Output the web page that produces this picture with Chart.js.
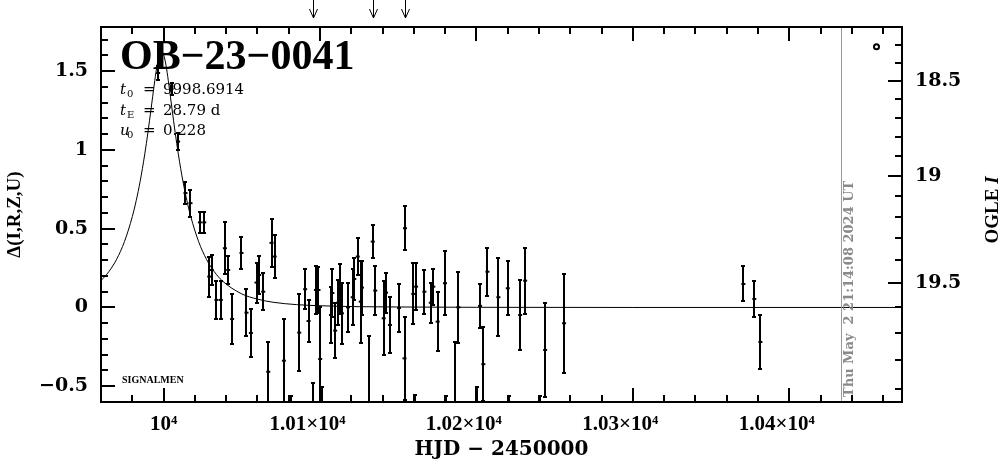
<!DOCTYPE html>
<html>
<head>
<meta charset="utf-8">
<script src="https://cdn.jsdelivr.net/npm/chart.js@4.4.1/dist/chart.umd.min.js"></script>
<style>
  html, body { margin: 0; padding: 0; background: #fff; }
</style>
</head>
<body>
<canvas id="c" width="1004" height="459"></canvas>
<script>
// ── axis ranges / ticks ─────────────────────────────────────────────
const X_MIN = 9960, X_MAX = 10472;
const Y_MIN = -0.6, Y_MAX = 1.78;

const xTickValues = [10000, 10100, 10200, 10300, 10400];
// trailing spaces keep the long labels sitting left of their tick, as in the plot
const xTickLabels = ["10⁴", "1.01×10⁴\u2003\u2009", "1.02×10⁴\u2003\u2009", "1.03×10⁴\u2003\u2009", "1.04×10⁴\u2003\u2009"];
const yTickValues = [-0.5, 0, 0.5, 1, 1.5];
const yTickLabels = ["−0.5", "0", "0.5", "1", "1.5"];
const magTickValues = [18.5, 19, 19.5];
const magTickLabels = ["18.5", "19", "19.5"];

// OGLE I magnitude <-> Δ (baseline mag, blend fraction)
const OGLE_BASE = 19.6, BLEND = 0.635;

// ── observations: HJD-2450000, Δ mag, error ────────────────────────
const obsT = [9996.5, 10005.1, 10009.3, 10014.0, 10017.2, 10023.2, 10026.0, 10029.2, 10030.8, 10033.8,
  10036.6, 10039.2, 10041.3, 10043.8, 10049.8, 10053.0, 10055.8, 10059.4, 10061.1, 10063.7,
  10066.9, 10069.0, 10071.0, 10076.9, 10081.2, 10086.7, 10090.5, 10092.7, 10095.3, 10097.4,
  10099.0, 10100.1, 10101.0, 10107.0, 10107.9, 10109.7, 10111.5, 10112.7, 10114.0, 10117.9,
  10120.9, 10121.9, 10124.1, 10126.0, 10126.8, 10131.5, 10133.7, 10135.3, 10140.7, 10142.2,
  10144.7, 10150.5, 10154.3, 10154.0, 10159.6, 10161.4, 10160.7, 10166.7, 10170.8, 10172.4,
  10175.2, 10179.9, 10180.4, 10186.3, 10188.4, 10200.2, 10202.3, 10204.4, 10207.0, 10214.0,
  10220.0, 10220.9, 10227.9, 10231.1, 10240.7, 10243.9, 10256.0, 10370.6, 10377.6, 10381.5];
const obsD = [1.488, 1.387, 1.053, 0.726, 0.662, 0.540, 0.540, 0.196, 0.238, 0.048,
  0.048, 0.376, 0.238, -0.073, 0.346, -0.033, -0.162, 0.158, 0.206, 0.100,
  -0.408, 0.410, 0.323, -0.338, -0.800, -0.160, 0.116, -0.086, -0.780, 0.111,
  0.111, -0.327, -0.800, -0.048, 0.092, -0.147, 0.030, 0.116, -0.037, 0.001,
  0.065, 0.181, 0.323, 0.037, 0.126, -0.620, 0.418, 0.107, -0.069, 0.094,
  -0.111, -0.003, 0.503, -0.323, 0.086, 0.132, -0.800, 0.100, 0.030, 0.132,
  -0.090, 0.154, -0.820, -0.660, 0.001, -0.800, 0.010, -0.360, 0.227, 0.065,
  0.122, -0.820, -0.048, 0.170, -0.820, -0.270, -0.100, 0.149, 0.054, -0.219];
const obsE = [0.043, 0.037, 0.053, 0.068, 0.085, 0.069, 0.069, 0.127, 0.095, 0.120,
  0.120, 0.164, 0.086, 0.156, 0.100, 0.150, 0.152, 0.127, 0.118, 0.118,
  0.190, 0.152, 0.138, 0.262, 0.240, 0.245, 0.127, 0.132, 0.300, 0.150,
  0.148, 0.330, 0.295, 0.180, 0.152, 0.175, 0.143, 0.159, 0.194, 0.156,
  0.178, 0.133, 0.118, 0.260, 0.172, 0.440, 0.106, 0.156, 0.235, 0.127,
  0.178, 0.151, 0.140, 0.265, 0.194, 0.148, 0.245, 0.139, 0.127, 0.114,
  0.189, 0.205, 0.260, 0.440, 0.224, 0.295, 0.140, 0.235, 0.152, 0.248,
  0.172, 0.260, 0.222, 0.210, 0.260, 0.297, 0.313, 0.111, 0.114, 0.172];

// ── model curve ─────────────────────────
const modelT = [9960, 9965, 9970, 9975, 9980, 9982.5, 9985, 9988, 9990, 9992, 9994, 9995.5, 9997, 9998.7,
  10000.4, 10001.9, 10003.4, 10005.4, 10007.4, 10009.4, 10012.4, 10014.9, 10017.4, 10022.4, 10027.4,
  10032.4, 10037.4, 10050, 10060, 10070, 10085, 10100, 10125, 10150, 10200, 10300, 10472];
const modelD = [0.170, 0.227, 0.306, 0.418, 0.576, 0.678, 0.799, 0.975, 1.111, 1.260, 1.412, 1.516, 1.592, 1.626,
  1.592, 1.516, 1.412, 1.260, 1.111, 0.975, 0.799, 0.678, 0.576, 0.418, 0.306,
  0.227, 0.170, 0.086, 0.053, 0.033, 0.018, 0.011, 0.005, 0.003, 0.001, 0.0, 0.0];

// ── annotations ────────────────────────────────────────────────────
const alertT = [10095.5, 10133.9, 10154.3];
const nowT = 10433.385;
const nowLabel = "Thu May  2 21:14:08 2024 UT";
const markerT = [10455.7];
const markerD = [1.655];
const eventName = "OB−23−0041";
const params = [
  { sym: "t", sub: "0", text: "9998.6914" },
  { sym: "t", sub: "E", text: "28.79 d" },
  { sym: "u", sub: "0", text: "0.228" },
];

function magToDelta(m) {
  const f = Math.pow(10, -0.4 * (m - OGLE_BASE));
  return 2.5 * Math.log10((f - 1) / BLEND + 1);
}

const SERIF = "'DejaVu Serif', serif";
const TIMES = "'Liberation Serif', serif";

const framePlugin = {
  id: "frame",
  afterDatasetsDraw(chart) {
    const { ctx, chartArea: a, scales: { x, y } } = chart;
    ctx.save();
    ctx.beginPath();
    ctx.rect(a.left, a.top, a.right - a.left, a.bottom - a.top);
    ctx.clip();
    ctx.strokeStyle = "#000";
    ctx.lineWidth = 2;
    obsT.forEach((t, i) => {
      const px = Math.round(x.getPixelForValue(t));
      const y1 = Math.round(y.getPixelForValue(obsD[i] + obsE[i]));
      const y2 = Math.round(y.getPixelForValue(obsD[i] - obsE[i]));
      ctx.beginPath();
      ctx.moveTo(px, y1); ctx.lineTo(px, y2);
      ctx.moveTo(px - 2, y1); ctx.lineTo(px + 2, y1);
      ctx.moveTo(px - 2, y2); ctx.lineTo(px + 2, y2);
      ctx.stroke();
    });
    // today line
    const nx = Math.round(x.getPixelForValue(nowT)) - 0.5;
    ctx.strokeStyle = "#999";
    ctx.lineWidth = 1;
    ctx.beginPath();
    ctx.moveTo(nx, a.top); ctx.lineTo(nx, a.bottom);
    ctx.stroke();
    ctx.restore();
  },
  afterDraw(chart) {
    const { ctx, chartArea: a, scales: { x, y } } = chart;
    ctx.save();
    ctx.strokeStyle = "#000";
    ctx.fillStyle = "#000";
    ctx.lineWidth = 2;
    ctx.strokeRect(a.left, a.top, a.right - a.left, a.bottom - a.top);

    const MAJ = 14, MIN = 7;
    ctx.beginPath();
    for (let t = 9960; t <= 10460; t += 20) {
      const px = Math.round(x.getPixelForValue(t));
      if (px <= a.left || px >= a.right) continue;
      const len = t % 100 === 0 ? MAJ : MIN;
      ctx.moveTo(px, a.bottom); ctx.lineTo(px, a.bottom - len);
      ctx.moveTo(px, a.top); ctx.lineTo(px, a.top + len);
    }
    for (let k = -6; k <= 17; k++) {
      const py = Math.round(y.getPixelForValue(k / 10));
      if (py <= a.top || py >= a.bottom) continue;
      const len = k % 5 === 0 ? MAJ : MIN;
      ctx.moveTo(a.left, py); ctx.lineTo(a.left + len, py);
    }
    for (let k = 182; k <= 199; k++) {
      const py = Math.round(y.getPixelForValue(magToDelta(k / 10)));
      if (py <= a.top || py >= a.bottom) continue;
      const len = k % 5 === 0 ? MAJ : MIN;
      ctx.moveTo(a.right, py); ctx.lineTo(a.right - len, py);
    }
    ctx.stroke();

    // alert arrows above the frame
    ctx.lineWidth = 1;
    ctx.beginPath();
    alertT.forEach((t) => {
      const px = Math.round(x.getPixelForValue(t)) + 0.5;
      ctx.moveTo(px, 0); ctx.lineTo(px, 18);
      ctx.moveTo(px - 4, 9); ctx.lineTo(px, 18); ctx.lineTo(px + 4, 9);
    });
    ctx.stroke();

    // event name and parameters
    ctx.textAlign = "left";
    ctx.textBaseline = "alphabetic";
    ctx.font = `bold 42px ${TIMES}`;
    ctx.fillText(eventName, a.left + 19, 69);
    params.forEach((p, i) => {
      const by = 94 + i * 20.5;
      ctx.font = `italic 15px ${SERIF}`;
      ctx.fillText(p.sym, a.left + 19, by);
      ctx.font = `10px ${SERIF}`;
      ctx.fillText(p.sub, a.left + 26, by + 3);
      ctx.font = `15px ${SERIF}`;
      ctx.fillText("=", a.left + 42, by);
      ctx.fillText(p.text, a.left + 62, by);
    });
    ctx.font = `bold 10px ${TIMES}`;
    ctx.fillText("SIGNALMEN", a.left + 21, 383);

    // date stamp next to the "now" line
    const nx = Math.round(x.getPixelForValue(nowT));
    ctx.fillStyle = "#8a8a8a";
    ctx.font = `bold 13px ${SERIF}`;
    ctx.save();
    ctx.translate(nx + 11, a.bottom - 5);
    ctx.rotate(-Math.PI / 2);
    ctx.fillText(nowLabel, 0, 0);
    ctx.restore();

    // right axis title
    ctx.fillStyle = "#000";
    ctx.save();
    ctx.translate(998, 210);
    ctx.rotate(-Math.PI / 2);
    ctx.font = `bold 19px ${TIMES}`;
    const w1 = ctx.measureText("OGLE ").width;
    ctx.font = `bold italic 19px ${TIMES}`;
    const w2 = ctx.measureText("I").width;
    ctx.font = `bold 19px ${TIMES}`;
    ctx.fillText("OGLE ", -(w1 + w2) / 2, 0);
    ctx.font = `bold italic 19px ${TIMES}`;
    ctx.fillText("I", -(w1 + w2) / 2 + w1, 0);
    ctx.restore();
    ctx.restore();
  },
};

const noGrid = { display: false, drawTicks: false };

new Chart(document.getElementById("c"), {
  type: "scatter",
  data: {
    datasets: [
      {
        type: "line",
        data: modelT.map((t, i) => ({ x: t, y: modelD[i] })),
        borderColor: "#000", borderWidth: 1, pointRadius: 0,
        cubicInterpolationMode: "monotone", fill: false,
      },
      {
        data: obsT.map((t, i) => ({ x: t, y: obsD[i] })),
        pointStyle: "line", pointRadius: 2, borderWidth: 2,
        borderColor: "#000", backgroundColor: "#000",
      },
      {
        data: markerT.map((t, i) => ({ x: t, y: markerD[i] })),
        pointStyle: "circle", pointRadius: 2.5, borderWidth: 2,
        borderColor: "#000", backgroundColor: "#fff",
      },
    ],
  },
  options: {
    responsive: false,
    animation: false,
    layout: { padding: { top: 27, left: 0, right: 0, bottom: 0 } },
    plugins: { legend: { display: false }, tooltip: { enabled: false } },
    scales: {
      x: {
        type: "linear", min: X_MIN, max: X_MAX,
        grid: noGrid, border: { display: false },
        afterBuildTicks: (s) => { s.ticks = xTickValues.map((v) => ({ value: v })); },
        afterFit: (s) => { s.height = 57; },
        ticks: {
          padding: 10, color: "#000", autoSkip: false, maxRotation: 0, minRotation: 0,
          font: { family: TIMES, size: 21, weight: "bold" },
          callback: (v, i) => xTickLabels[i],
        },
        title: {
          display: true, text: "HJD − 2450000", color: "#000", padding: 0,
          font: { family: SERIF, size: 20, weight: "bold", lineHeight: 0.9 },
        },
      },
      y: {
        type: "linear", min: Y_MIN, max: Y_MAX,
        grid: noGrid, border: { display: false },
        afterBuildTicks: (s) => { s.ticks = yTickValues.map((v) => ({ value: v })); },
        afterFit: (s) => { s.width = 101; },
        ticks: {
          padding: 13, color: "#000", autoSkip: false,
          font: { family: SERIF, size: 19, weight: "bold" },
          callback: (v, i) => yTickLabels[i],
        },
        title: {
          display: true, text: "Δ(I,R,Z,U)", color: "#000", padding: { top: 4 },
          font: { family: TIMES, size: 19, weight: "bold" },
        },
      },
      y2: {
        type: "linear", position: "right", min: Y_MIN, max: Y_MAX,
        grid: noGrid, border: { display: false },
        afterBuildTicks: (s) => { s.ticks = magTickValues.map((m) => ({ value: magToDelta(m) })); },
        afterFit: (s) => { s.width = 102; },
        ticks: {
          padding: 13, color: "#000", autoSkip: false,
          font: { family: SERIF, size: 19, weight: "bold" },
          callback: (v, i) => magTickLabels[i],
        },
      },
    },
  },
  plugins: [framePlugin],
});
</script>
</body>
</html>
